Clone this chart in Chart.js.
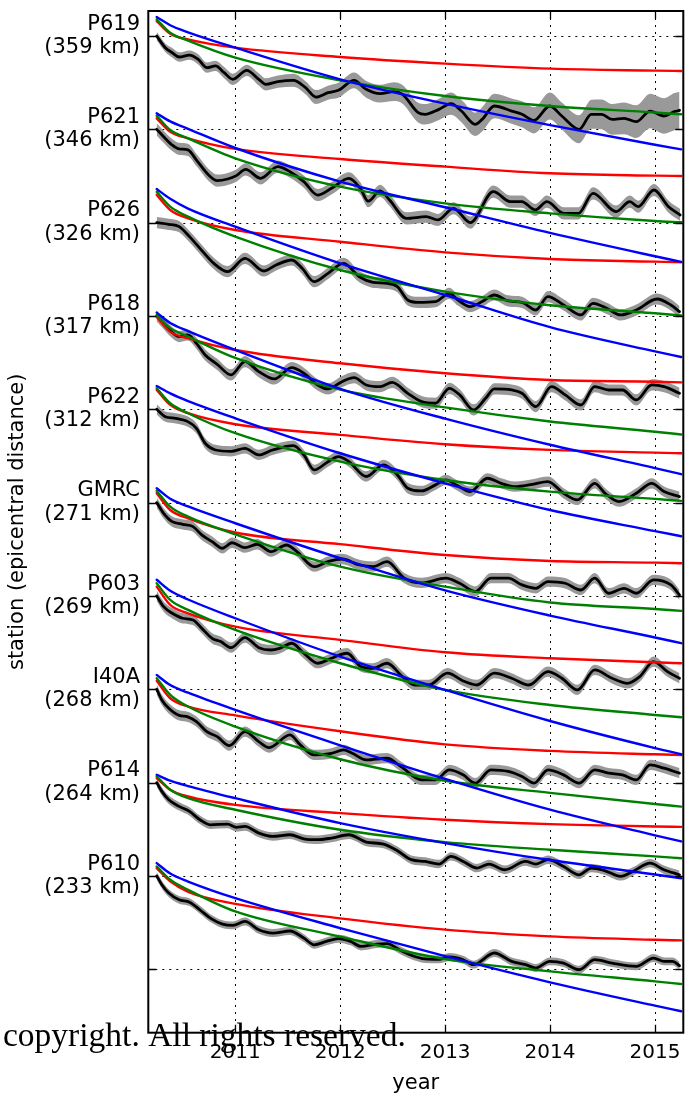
<!DOCTYPE html>
<html>
<head>
<meta charset="utf-8">
<script src="https://cdn.jsdelivr.net/npm/chart.js@4.4.1/dist/chart.umd.min.js"></script>
<style>
  html, body { margin: 0; padding: 0; background: #fff; }
  canvas { display: block; }
</style>
</head>
<body>
<canvas id="chart" width="688" height="1099"></canvas>
<script>
// Stations, top to bottom, with epicentral distance
const STATION_NAMES = ['P619', 'P621', 'P626', 'P618', 'P622', 'GMRC', 'P603', 'I40A', 'P614', 'P610'];
const STATION_DISTANCES_KM = [359, 346, 326, 317, 312, 271, 269, 268, 264, 233];
const YEAR_TICKS = [2011, 2012, 2013, 2014, 2015];
const STATION_SPACING = 10;

// Epochs at which the three model curves are evaluated
const MODEL_YEARS = [2010.251, 2010.38, 2010.55, 2011.0, 2012.0, 2013.0, 2014.0, 2015.0, 2015.25];

// ---- P619 ----
const P619_t = [2010.251, 2010.333, 2010.399, 2010.465, 2010.564, 2010.647, 2010.729, 2010.812, 2010.894, 2010.977, 2011.109, 2011.224, 2011.290, 2011.406, 2011.554, 2011.670, 2011.769, 2011.884, 2011.983, 2012.132, 2012.248, 2012.380, 2012.512, 2012.594, 2012.743, 2012.809, 2012.941, 2013.056, 2013.155, 2013.287, 2013.353, 2013.469, 2013.634, 2013.733, 2013.848, 2013.997, 2014.112, 2014.277, 2014.393, 2014.492, 2014.591, 2014.706, 2014.822, 2014.954, 2015.086, 2015.185, 2015.234];
const P619_obs = [0, -1.25, -1.79, -2.25, -2.04, -2.5, -3.39, -3.21, -3.93, -4.64, -3.68, -4.64, -5.18, -4.89, -4.75, -5.54, -6.54, -6.07, -5.82, -4.75, -5.71, -6.18, -5.96, -6.25, -8.21, -8.39, -7.86, -7.25, -8.04, -9.46, -8.93, -7.5, -8.04, -8.39, -9.04, -7.5, -8.57, -10.0, -8.39, -8.39, -8.93, -8.82, -9.18, -8.04, -8.57, -8.11, -7.96];
const P619_sig = [0.45, 0.45, 0.5, 0.5, 0.5, 0.55, 0.55, 0.55, 0.6, 0.6, 0.6, 0.65, 0.65, 0.65, 0.7, 0.7, 0.75, 0.75, 0.8, 0.85, 0.9, 0.95, 1.0, 1.0, 1.05, 1.1, 1.15, 1.2, 1.2, 1.25, 1.3, 1.3, 1.35, 1.4, 1.4, 1.45, 1.45, 1.5, 1.55, 1.6, 1.65, 1.7, 1.75, 1.85, 1.9, 2.0, 2.0];
const P619_red = [1.6, 0.25, -0.36, -1.25, -2.25, -2.96, -3.5, -3.71, -3.75];
const P619_green = [1.79, 0.36, -0.5, -2.32, -4.75, -6.43, -7.5, -8.2, -8.39];
const P619_blue = [2.04, 1.15, 0.4, -1.25, -4.64, -7.25, -9.55, -11.65, -12.15];

// ---- P621 ----
const P621_t = [2010.251, 2010.317, 2010.399, 2010.465, 2010.548, 2010.630, 2010.746, 2010.828, 2010.927, 2011.010, 2011.099, 2011.241, 2011.406, 2011.521, 2011.653, 2011.785, 2011.917, 2012.082, 2012.19, 2012.267, 2012.38, 2012.47, 2012.63, 2012.82, 2012.93, 2013.08, 2013.24, 2013.46, 2013.62, 2013.73, 2013.86, 2013.97, 2014.13, 2014.27, 2014.41, 2014.63, 2014.76, 2014.84, 2014.99, 2015.13, 2015.24];
const P621_obs = [0, -0.79, -1.68, -2.1, -2.2, -3.29, -4.89, -5.5, -5.32, -4.96, -4.29, -5.25, -4.0, -4.54, -5.6, -7.04, -6.32, -5.25, -6.3, -7.7, -6.6, -7.57, -9.54, -9.36, -9.71, -8.46, -10.0, -6.68, -7.75, -7.75, -8.64, -7.75, -9.0, -9.0, -6.86, -8.82, -7.75, -8.29, -6.5, -8.29, -9.18];
const P621_sig = 0.65;
const P621_red = [1.18, -0.25, -0.96, -2.1, -3.18, -4.0, -4.71, -4.96, -5.0];
const P621_green = [1.46, -0.07, -0.96, -3.1, -6.14, -7.93, -9.0, -9.82, -9.96];
const P621_blue = [1.71, 0.85, 0.05, -2.0, -5.6, -8.35, -11.1, -13.6, -14.2];

// ---- P626 ----
const P626_t = [2010.251, 2010.366, 2010.465, 2010.564, 2010.663, 2010.795, 2010.927, 2011.092, 2011.274, 2011.389, 2011.538, 2011.637, 2011.752, 2011.884, 2012.033, 2012.182, 2012.314, 2012.446, 2012.545, 2012.644, 2012.743, 2012.908, 2013.040, 2013.122, 2013.238, 2013.353, 2013.469, 2013.601, 2013.733, 2013.865, 2013.980, 2014.129, 2014.294, 2014.409, 2014.541, 2014.673, 2014.822, 2015.020, 2015.152, 2015.234];
const P626_obs = [0, -0.18, -0.43, -1.5, -2.75, -4.36, -5.25, -3.82, -5.18, -4.54, -4.0, -4.89, -6.32, -5.43, -4.36, -5.79, -6.39, -6.5, -6.86, -8.29, -8.54, -8.46, -7.57, -8.29, -9.0, -8.46, -7.75, -8.39, -8.54, -9.36, -7.93, -8.82, -9.89, -8.64, -9.18, -9.89, -9.36, -8.18, -8.82, -9.54];
const P626_sig = 0.6;
const P626_red = [2.97, 1.36, 0.46, -0.79, -2.04, -3.18, -3.89, -4.18, -4.25];
const P626_green = [3.3, 1.71, 0.64, -1.5, -5.07, -7.39, -8.85, -9.7, -9.95];
const P626_blue = [3.6, 2.55, 1.5, -0.43, -4.36, -7.75, -11.2, -13.8, -14.4];

// ---- P618 ----
const P618_t = [2010.251, 2010.317, 2010.383, 2010.465, 2010.548, 2010.630, 2010.713, 2010.828, 2010.960, 2011.092, 2011.224, 2011.373, 2011.538, 2011.653, 2011.785, 2011.884, 2012.017, 2012.132, 2012.248, 2012.380, 2012.495, 2012.644, 2012.776, 2012.908, 2013.040, 2013.139, 2013.271, 2013.386, 2013.469, 2013.634, 2013.733, 2013.865, 2014.013, 2014.145, 2014.294, 2014.426, 2014.558, 2014.690, 2014.822, 2014.970, 2015.086, 2015.234];
const P618_obs = [0, -0.79, -1.61, -2.21, -2.04, -2.93, -4.18, -5.18, -6.32, -4.89, -5.96, -6.75, -5.54, -6.14, -7.39, -7.82, -7.04, -6.61, -7.39, -7.57, -7.11, -8.29, -9.18, -9.35, -7.75, -8.46, -10.07, -8.82, -7.82, -7.93, -8.28, -9.71, -7.57, -8.46, -9.54, -7.57, -7.93, -7.93, -9.0, -7.39, -7.57, -8.28];
const P618_sig = 0.6;
const P618_red = [-0.1, -1.7, -2.4, -3.64, -5.07, -6.14, -6.86, -7.04, -7.11];
const P618_green = [0.1, -1.3, -2.2, -4.5, -7.9, -9.8, -11.3, -12.4, -12.7];
const P618_blue = [0.36, -0.75, -1.62, -3.64, -7.8, -11.0, -13.8, -16.3, -16.95];

// ---- P622 ----
const P622_t = [2010.251, 2010.333, 2010.432, 2010.548, 2010.630, 2010.713, 2010.812, 2010.960, 2011.092, 2011.224, 2011.356, 2011.554, 2011.653, 2011.752, 2011.884, 2011.983, 2012.083, 2012.248, 2012.413, 2012.545, 2012.644, 2012.776, 2012.908, 2013.007, 2013.106, 2013.238, 2013.403, 2013.535, 2013.667, 2013.832, 2013.980, 2014.129, 2014.261, 2014.426, 2014.525, 2014.657, 2014.822, 2014.970, 2015.086, 2015.234];
const P622_obs = [0, -0.79, -0.96, -1.32, -2.04, -3.64, -4.36, -4.5, -4.18, -4.89, -4.36, -3.89, -4.89, -6.5, -5.61, -5.07, -5.6, -7.2, -5.96, -7.04, -8.46, -8.75, -8.1, -7.57, -8.1, -8.82, -7.39, -7.93, -8.29, -8.04, -7.75, -9.0, -9.71, -7.93, -9.0, -9.89, -9.0, -7.93, -8.82, -9.36];
const P622_sig = 0.55;
const P622_red = [2.08, 0.47, -0.42, -1.6, -2.74, -3.74, -4.35, -4.64, -4.71];
const P622_green = [2.26, 0.65, -0.42, -2.56, -5.6, -7.57, -8.82, -9.6, -9.81];
const P622_blue = [2.5, 1.7, 0.88, -0.96, -4.71, -7.93, -10.79, -13.05, -13.6];

// ---- GMRC ----
const GMRC_t = [2010.251, 2010.317, 2010.399, 2010.498, 2010.597, 2010.680, 2010.779, 2010.878, 2010.970, 2011.092, 2011.208, 2011.340, 2011.488, 2011.587, 2011.752, 2011.884, 2012.017, 2012.182, 2012.314, 2012.446, 2012.611, 2012.776, 2013.007, 2013.139, 2013.287, 2013.436, 2013.601, 2013.733, 2013.865, 2013.980, 2014.145, 2014.294, 2014.426, 2014.558, 2014.706, 2014.822, 2014.987, 2015.152, 2015.234];
const GMRC_obs = [0, -1.14, -2.04, -2.32, -2.57, -3.46, -4.18, -4.89, -4.3, -4.82, -4.46, -5.25, -4.54, -5.25, -6.86, -6.32, -6.04, -6.68, -6.86, -6.32, -8.1, -8.6, -8.1, -8.64, -9.53, -8.1, -8.1, -8.82, -9.18, -8.46, -8.64, -9.36, -8.1, -9.71, -9.18, -9.71, -8.28, -8.82, -9.89];
const GMRC_sig = 0.55;
const GMRC_red = [1.0, -0.79, -1.68, -3.2, -4.45, -5.61, -6.25, -6.43, -6.5];
const GMRC_green = [1.25, -0.43, -1.5, -3.39, -6.86, -9.0, -10.7, -11.4, -11.6];
const GMRC_blue = [1.54, 0.41, -0.41, -2.21, -5.96, -9.4, -12.1, -14.45, -15.06];

// ---- P603 ----
const P603_t = [2010.251, 2010.317, 2010.399, 2010.498, 2010.597, 2010.680, 2010.779, 2010.861, 2010.960, 2011.092, 2011.224, 2011.340, 2011.422, 2011.538, 2011.653, 2011.785, 2011.917, 2012.066, 2012.198, 2012.314, 2012.446, 2012.594, 2012.710, 2012.842, 2013.023, 2013.172, 2013.304, 2013.469, 2013.634, 2013.799, 2013.980, 2014.112, 2014.261, 2014.426, 2014.591, 2014.739, 2014.855, 2014.987, 2015.119, 2015.234];
const P603_obs = [0, -1.14, -1.86, -2.39, -2.57, -3.46, -4.54, -4.89, -5.54, -4.46, -5.54, -5.79, -5.61, -5.07, -6.14, -7.21, -6.68, -6.14, -7.57, -7.75, -7.21, -8.64, -9.54, -9.54, -8.28, -9.11, -9.54, -8.28, -8.82, -9.54, -8.11, -8.82, -10.07, -7.93, -8.82, -9.36, -8.64, -7.04, -8.11, -8.82];
const P603_sig = 0.55;
const P603_red = [1.0, -0.96, -1.86, -3.29, -4.71, -6.04, -6.68, -7.11, -7.21];
const P603_green = [1.37, -0.43, -1.5, -3.64, -7.21, -10.07, -11.68, -12.75, -13.0];
const P603_blue = [1.73, 0.55, -0.38, -2.39, -6.5, -10.07, -13.4, -16.3, -16.96];

// ---- I40A ----
const I40A_t = [2010.251, 2010.300, 2010.366, 2010.465, 2010.548, 2010.630, 2010.729, 2010.828, 2010.944, 2011.092, 2011.224, 2011.323, 2011.521, 2011.620, 2011.752, 2011.917, 2012.033, 2012.115, 2012.248, 2012.446, 2012.578, 2012.776, 2012.908, 2013.040, 2013.172, 2013.287, 2013.436, 2013.601, 2013.733, 2013.848, 2013.980, 2014.129, 2014.277, 2014.426, 2014.558, 2014.690, 2014.822, 2014.954, 2015.086, 2015.234];
const I40A_obs = [0, -1.14, -2.04, -2.8, -2.95, -3.46, -4.54, -5.07, -6.04, -4.54, -5.61, -6.25, -4.89, -5.96, -7.04, -6.86, -6.5, -6.86, -7.57, -7.39, -8.28, -9.71, -9.71, -8.64, -9.17, -10.06, -8.64, -8.81, -9.35, -10.06, -8.64, -9.17, -10.06, -8.64, -8.99, -9.17, -9.71, -8.1, -8.46, -8.99];
const I40A_sig = 0.55;
const I40A_red = [0.9, -0.96, -1.85, -2.8, -4.5, -5.9, -6.6, -6.97, -7.04];
const I40A_green = [1.18, -0.6, -1.85, -4.0, -7.5, -9.8, -11.1, -12.3, -12.57];
const I40A_blue = [1.54, 0.45, -0.37, -2.21, -6.0, -9.6, -12.9, -15.65, -16.3];

// ---- P614 ----
const P614_t = [2010.251, 2010.300, 2010.366, 2010.465, 2010.564, 2010.663, 2010.762, 2010.927, 2011.010, 2011.092, 2011.224, 2011.356, 2011.521, 2011.653, 2011.785, 2011.917, 2012.083, 2012.248, 2012.413, 2012.545, 2012.677, 2012.809, 2012.941, 2013.056, 2013.172, 2013.304, 2013.419, 2013.568, 2013.766, 2013.865, 2013.980, 2014.129, 2014.277, 2014.393, 2014.525, 2014.673, 2014.789, 2014.954, 2015.086, 2015.234];
const P614_obs = [0, -0.94, -1.84, -2.55, -3.09, -3.98, -4.52, -4.45, -4.8, -4.7, -5.41, -5.77, -5.59, -6.02, -6.12, -5.94, -5.59, -6.37, -6.59, -7.3, -8.26, -8.45, -8.73, -7.91, -8.45, -9.16, -8.73, -9.34, -8.45, -8.73, -8.26, -8.98, -9.88, -9.16, -9.45, -10.05, -9.52, -8.63, -9.34, -9.88];
const P614_sig = 0.45;
const P614_red = [0.48, -0.77, -1.49, -2.39, -3.27, -3.98, -4.45, -4.7, -4.74];
const P614_green = [0.66, -0.77, -1.67, -2.91, -5.05, -6.38, -7.2, -7.91, -8.1];
const P614_blue = [0.84, 0.2, -0.37, -1.67, -4.34, -6.48, -8.3, -9.85, -10.25];

// ---- P610 ----
const P610_t = [2010.251, 2010.300, 2010.366, 2010.465, 2010.564, 2010.663, 2010.762, 2010.878, 2010.977, 2011.092, 2011.224, 2011.356, 2011.521, 2011.653, 2011.752, 2011.868, 2011.983, 2012.099, 2012.198, 2012.347, 2012.446, 2012.578, 2012.677, 2012.809, 2012.941, 2013.040, 2013.172, 2013.271, 2013.469, 2013.634, 2013.766, 2013.865, 2013.997, 2014.129, 2014.277, 2014.426, 2014.591, 2014.822, 2014.987, 2015.086, 2015.168, 2015.234];
const P610_obs = [0, -0.94, -1.84, -2.56, -2.81, -3.63, -4.52, -5.16, -5.3, -4.88, -5.77, -6.12, -5.9, -6.66, -7.38, -7.02, -6.73, -7.02, -7.56, -7.3, -7.25, -8.0, -8.5, -8.9, -8.95, -8.69, -8.98, -9.51, -8.26, -9.16, -9.51, -9.87, -9.16, -9.34, -10.05, -8.98, -9.34, -9.69, -8.8, -9.16, -9.16, -9.62];
const P610_sig = 0.42;
const P610_red = [0.84, -0.59, -1.7, -3.0, -4.55, -5.76, -6.48, -6.84, -6.91];
const P610_green = [1.02, -0.41, -1.48, -3.8, -6.5, -8.91, -10.23, -11.3, -11.58];
const P610_blue = [1.37, 0.25, -0.6, -2.38, -5.59, -8.6, -11.4, -13.9, -14.5];

const STATIONS = [
  { t: P619_t, obs: P619_obs, sig: P619_sig, red: P619_red, green: P619_green, blue: P619_blue },
  { t: P621_t, obs: P621_obs, sig: P621_sig, red: P621_red, green: P621_green, blue: P621_blue },
  { t: P626_t, obs: P626_obs, sig: P626_sig, red: P626_red, green: P626_green, blue: P626_blue },
  { t: P618_t, obs: P618_obs, sig: P618_sig, red: P618_red, green: P618_green, blue: P618_blue },
  { t: P622_t, obs: P622_obs, sig: P622_sig, red: P622_red, green: P622_green, blue: P622_blue },
  { t: GMRC_t, obs: GMRC_obs, sig: GMRC_sig, red: GMRC_red, green: GMRC_green, blue: GMRC_blue },
  { t: P603_t, obs: P603_obs, sig: P603_sig, red: P603_red, green: P603_green, blue: P603_blue },
  { t: I40A_t, obs: I40A_obs, sig: I40A_sig, red: I40A_red, green: I40A_green, blue: I40A_blue },
  { t: P614_t, obs: P614_obs, sig: P614_sig, red: P614_red, green: P614_green, blue: P614_blue },
  { t: P610_t, obs: P610_obs, sig: P610_sig, red: P610_red, green: P610_green, blue: P610_blue }
];

const Y_TICKS = STATION_NAMES.map((_, i) => -STATION_SPACING * i).concat([-STATION_SPACING * STATION_NAMES.length]);

// ---- datasets: each station is shifted down by its offset ----
const datasets = [];
STATIONS.forEach((s, i) => {
  const base = -STATION_SPACING * i;
  const sigAt = k => (Array.isArray(s.sig) ? s.sig[k] : s.sig);
  const common = { pointRadius: 0, cubicInterpolationMode: 'monotone', borderJoinStyle: 'round', borderCapStyle: 'round' };
  const upperIndex = datasets.length;
  datasets.push(Object.assign({}, common, {
    label: STATION_NAMES[i] + ' +σ',
    data: s.t.map((x, k) => ({ x, y: base + s.obs[k] + sigAt(k) })),
    borderWidth: 0, borderColor: 'rgba(0,0,0,0)', fill: false, order: 5
  }));
  datasets.push(Object.assign({}, common, {
    label: STATION_NAMES[i] + ' -σ',
    data: s.t.map((x, k) => ({ x, y: base + s.obs[k] - sigAt(k) })),
    borderWidth: 0, borderColor: 'rgba(0,0,0,0)',
    backgroundColor: '#999999', fill: { target: upperIndex }, order: 5
  }));
  datasets.push(Object.assign({}, common, {
    label: STATION_NAMES[i],
    data: s.t.map((x, k) => ({ x, y: base + s.obs[k] })),
    borderColor: '#000000', borderWidth: 2.8, fill: false, order: 4
  }));
  [['red', '#ff0000', 3], ['green', '#008000', 2], ['blue', '#0000ff', 1]].forEach(([key, color, ord]) => {
    datasets.push(Object.assign({}, common, {
      label: STATION_NAMES[i] + ' ' + key,
      data: MODEL_YEARS.map((x, k) => ({ x, y: base + s[key][k] })),
      borderColor: color, borderWidth: 2.4, fill: false, order: ord
    }));
  });
});

// Dotted grid under the data; frame with inward ticks on top; footer note last
const framePlugin = {
  id: 'frame',
  beforeDatasetsDraw(chart) {
    const { ctx, chartArea: a, scales: { x, y } } = chart;
    ctx.save();
    ctx.strokeStyle = '#000';
    ctx.lineWidth = 1;
    ctx.setLineDash([2, 5]);
    x.ticks.forEach(t => {
      const px = Math.round(x.getPixelForValue(t.value)) + 0.5;
      ctx.beginPath(); ctx.moveTo(px, a.top); ctx.lineTo(px, a.bottom); ctx.stroke();
    });
    y.ticks.forEach(t => {
      const py = Math.round(y.getPixelForValue(t.value)) + 0.5;
      ctx.beginPath(); ctx.moveTo(a.left, py); ctx.lineTo(a.right, py); ctx.stroke();
    });
    ctx.restore();
  },
  afterDatasetsDraw(chart) {
    const { ctx, chartArea: a, scales: { x, y } } = chart;
    ctx.save();
    ctx.strokeStyle = '#000';
    ctx.lineWidth = 1.3;
    const len = 8;
    x.ticks.forEach(t => {
      const px = Math.round(x.getPixelForValue(t.value)) + 0.5;
      ctx.beginPath();
      ctx.moveTo(px, a.bottom); ctx.lineTo(px, a.bottom - len);
      ctx.moveTo(px, a.top); ctx.lineTo(px, a.top + len);
      ctx.stroke();
    });
    y.ticks.forEach(t => {
      const py = Math.round(y.getPixelForValue(t.value)) + 0.5;
      ctx.beginPath();
      ctx.moveTo(a.left, py); ctx.lineTo(a.left + len, py);
      ctx.moveTo(a.right, py); ctx.lineTo(a.right - len, py);
      ctx.stroke();
    });
    ctx.lineWidth = 2;
    ctx.strokeRect(a.left, a.top, a.right - a.left, a.bottom - a.top);
    ctx.restore();
  },
  afterDraw(chart) {
    const { ctx } = chart;
    ctx.save();
    ctx.fillStyle = '#000';
    ctx.font = '33.5px "Liberation Serif", serif';
    ctx.textBaseline = 'alphabetic';
    ctx.textAlign = 'left';
    ctx.fillText('copyright. All rights reserved.', 3, 1046);
    ctx.restore();
  }
};

const FONT = "'DejaVu Sans', sans-serif";

new Chart(document.getElementById('chart'), {
  type: 'line',
  data: { datasets },
  plugins: [framePlugin],
  options: {
    responsive: false,
    animation: false,
    devicePixelRatio: 1,
    parsing: false,
    layout: { padding: { top: 11, right: 4.7, bottom: 0, left: 0 } },
    plugins: { legend: { display: false }, tooltip: { enabled: false } },
    scales: {
      x: {
        type: 'linear',
        min: 2010.171,
        max: 2015.27,
        afterBuildTicks: scale => { scale.ticks = YEAR_TICKS.map(v => ({ value: v })); },
        afterFit: scale => { scale.height = 66.3; scale.paddingLeft = 0; scale.paddingRight = 0; },
        grid: { display: false, drawTicks: false },
        border: { display: false },
        ticks: {
          autoSkip: false, maxRotation: 0, padding: 8,
          color: '#000', font: { family: FONT, size: 20 },
          callback: v => String(v)
        },
        title: {
          display: true, text: 'year', color: '#000',
          font: { family: FONT, size: 21 }, padding: { top: 0, bottom: 3 }
        }
      },
      y: {
        type: 'linear',
        min: -106.8,
        max: 2.68,
        afterBuildTicks: scale => { scale.ticks = Y_TICKS.map(v => ({ value: v })); },
        afterFit: scale => { scale.width = 148.3; scale.paddingTop = 0; scale.paddingBottom = 0; },
        grid: { display: false, drawTicks: false },
        border: { display: false },
        ticks: {
          autoSkip: false, padding: 8.3,
          color: '#000', font: { family: FONT, size: 21, lineHeight: 1.11 },
          callback: v => {
            const i = Math.round(-v / STATION_SPACING);
            return i < STATION_NAMES.length ? [STATION_NAMES[i], '(' + STATION_DISTANCES_KM[i] + ' km)'] : '';
          }
        },
        title: {
          display: true, text: 'station (epicentral distance)', color: '#000',
          font: { family: FONT, size: 21 }, padding: { top: 5, bottom: 0 }
        }
      }
    }
  }
});
</script>
</body>
</html>
